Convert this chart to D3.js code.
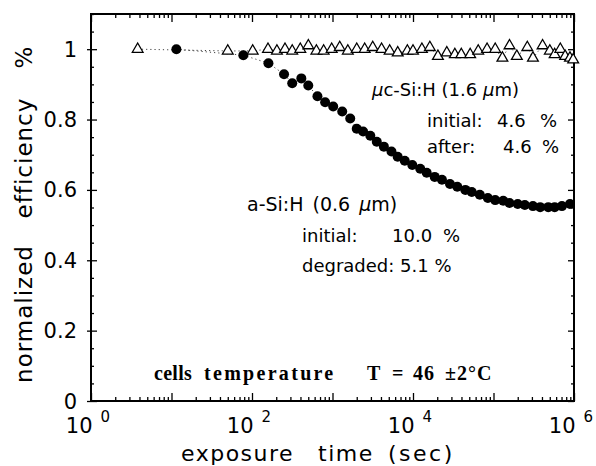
<!DOCTYPE html>
<html>
<head>
<meta charset="utf-8">
<script src="https://cdn.jsdelivr.net/npm/d3@7"></script>
<style>
  body { margin: 0; background: #fff; }
  text { white-space: pre; }
</style>
</head>
<body>
<div id="chart"></div>
<script>
// a-Si:H (0.6 um) - filled circles
const circleTime = [11.5, 78, 160, 250, 316, 410, 500, 650, 810, 1020, 1320, 1660, 2000, 2400, 2950,
  3550, 4350, 5400, 6450, 7900, 9800, 12300, 14800, 18600, 22900, 28800, 35500, 44700, 53700,
  67600, 85100, 105000, 132000, 158000, 200000, 245000, 309000, 380000, 479000, 575000, 708000, 891000];
const circleEff = [1.0, 0.983, 0.960, 0.929, 0.903, 0.917, 0.897, 0.866, 0.849, 0.837, 0.823, 0.803, 0.774, 0.766, 0.754,
  0.737, 0.723, 0.709, 0.694, 0.683, 0.671, 0.660, 0.649, 0.637, 0.629, 0.617, 0.609, 0.600, 0.594,
  0.586, 0.577, 0.571, 0.569, 0.563, 0.560, 0.557, 0.554, 0.551, 0.551, 0.551, 0.554, 0.560];

// uc-Si:H (1.6 um) - open triangles
const triTime = [3.8, 50, 102, 158, 204, 257, 316, 398, 501, 631, 776, 977, 1230, 1550, 2000, 2510, 3160,
  4070, 5130, 6460, 8510, 10000, 12900, 16200, 20400, 26300, 33100, 39800, 51300, 64600, 83200,
  105000, 129000, 158000, 195000, 263000, 309000, 407000, 501000, 575000, 676000, 776000, 891000, 977000];
const triEff = [1.0, 0.995, 0.995, 1.0, 0.995, 1.0, 0.995, 1.0, 1.01, 0.995, 0.995, 1.0, 1.005, 0.995, 1.0, 1.0, 1.005,
  1.0, 0.995, 0.99, 0.995, 0.995, 1.0, 1.005, 0.98, 0.99, 0.985, 0.985, 0.985, 0.995, 1.0,
  1.0, 0.975, 1.01, 0.98, 1.005, 0.975, 1.01, 0.995, 0.985, 1.0, 0.98, 0.975, 0.97];

const yTickValues = [0, 0.2, 0.4, 0.6, 0.8, 1];
const yTickLabels = ["0", "0.2", "0.4", "0.6", "0.8", "1"];
const xLabelValues = [1, 1e2, 1e4, 1e6];
const xLabelExponents = ["0", "2", "4", "6"];

const margin = { top: 14, right: 22, bottom: 65, left: 91 },
    width = 596 - margin.left - margin.right,
    height = 466 - margin.top - margin.bottom;

const x = d3.scaleLog().domain([1, 1e6]).range([0, width]);
const y = d3.scaleLinear().domain([0, 1.1]).range([height, 0]);

const root = d3.select("#chart")
    .append("svg")
    .attr("width", width + margin.left + margin.right)
    .attr("height", height + margin.top + margin.bottom);

const svg = root.append("g")
    .attr("transform", "translate(" + margin.left + "," + margin.top + ")");

// tick positions
const decades = d3.range(0, 7).map(function(k) { return Math.pow(10, k); });
const minors = [];
for (let k = 0; k < 6; k++) {
    for (let m = 2; m < 10; m++) minors.push(m * Math.pow(10, k));
}
const yMinor = d3.range(0, 1.101, 0.05).filter(function(v) { return Math.abs(v * 5 - Math.round(v * 5)) > 1e-6; });

function tickAxis(axis, vals, size, tr) {
    const g = svg.append("g")
        .attr("transform", tr || null)
        .call(axis.tickValues(vals).tickSize(size).tickFormat(""));
    g.select(".domain").remove();
    g.selectAll("line").attr("stroke", "#000").attr("stroke-width", 1.3);
    return g;
}

// bottom and top x ticks (inside)
tickAxis(d3.axisBottom(x), decades, -8, "translate(0," + height + ")");
tickAxis(d3.axisBottom(x), minors, -4, "translate(0," + height + ")");
tickAxis(d3.axisTop(x), decades, -8);
tickAxis(d3.axisTop(x), minors, -4);

// left y ticks (crossing the axis), right y ticks (inside)
tickAxis(d3.axisLeft(y), yTickValues, 4);
tickAxis(d3.axisLeft(y), yTickValues, -6);
tickAxis(d3.axisLeft(y), yMinor, -3);
tickAxis(d3.axisRight(y), yTickValues, -6, "translate(" + width + ",0)");
tickAxis(d3.axisRight(y), yMinor, -3, "translate(" + width + ",0)");

// frame
svg.append("rect")
    .attr("x", 0).attr("y", 0)
    .attr("width", width).attr("height", height)
    .attr("fill", "none")
    .attr("stroke", "#000")
    .attr("stroke-width", 2);

// y tick labels
svg.selectAll(".ylab")
    .data(yTickValues)
    .enter().append("text")
    .attr("class", "ylab")
    .attr("x", -14)
    .attr("y", function(d) { return y(d); })
    .attr("dy", "0.36em")
    .attr("text-anchor", "end")
    .style("font-family", "DejaVu Sans, sans-serif")
    .style("font-size", "21px")
    .text(function(d, i) { return yTickLabels[i]; });

// x tick labels as 10^n
const xl = svg.selectAll(".xlab")
    .data(xLabelValues)
    .enter().append("text")
    .attr("class", "xlab")
    .attr("x", function(d) { return x(d) - 3; })
    .attr("y", height + 32)
    .attr("text-anchor", "middle")
    .style("font-family", "DejaVu Sans, sans-serif")
    .style("font-size", "21px");
xl.append("tspan").text("10");
xl.append("tspan")
    .attr("dx", 8).attr("dy", -11)
    .style("font-size", "15px")
    .text(function(d, i) { return xLabelExponents[i]; });

// page-coordinate text helper
function label(tx, ty, str, size, family) {
    return root.append("text")
        .attr("x", tx)
        .attr("y", ty)
        .style("font-family", family || "DejaVu Sans, sans-serif")
        .style("font-size", size + "px")
        .text(str);
}

// x axis title, word by word
label(181, 461, "exposure", 22).style("letter-spacing", "1.5px");
label(318, 461, "time", 22).style("letter-spacing", "1.5px");
label(388, 461, "(sec)", 22).style("letter-spacing", "2.5px");

// y axis title, rotated
const yt = root.append("text")
    .attr("transform", "translate(32,0) rotate(-90)")
    .attr("text-anchor", "middle")
    .style("font-family", "DejaVu Sans, sans-serif")
    .style("font-size", "23px")
    .style("letter-spacing", "1px");
yt.append("tspan").attr("x", -314).attr("y", 0).text("normalized");
yt.append("tspan").attr("x", -158).attr("y", 0).text("efficiency");
yt.append("tspan").attr("x", -57).attr("y", 0).text("%");

// dotted connecting lines
const line = d3.line()
    .x(function(d) { return x(d[0]); })
    .y(function(d) { return y(d[1]); });

svg.append("path")
    .datum(d3.zip(triTime, triEff))
    .attr("d", line)
    .attr("fill", "none")
    .attr("stroke", "#444")
    .attr("stroke-width", 1)
    .attr("stroke-dasharray", "1.2,3");

svg.append("path")
    .datum(d3.zip(circleTime, circleEff))
    .attr("d", line)
    .attr("fill", "none")
    .attr("stroke", "#444")
    .attr("stroke-width", 1)
    .attr("stroke-dasharray", "1.2,3");

// triangles
svg.selectAll(".tri")
    .data(d3.zip(triTime, triEff))
    .enter().append("path")
    .attr("class", "tri")
    .attr("d", d3.symbol().type(d3.symbolTriangle).size(50))
    .attr("transform", function(d) { return "translate(" + x(d[0]) + "," + y(d[1]) + ")"; })
    .attr("fill", "#fff")
    .attr("stroke", "#000")
    .attr("stroke-width", 1.3);

// circles
svg.selectAll(".dot")
    .data(d3.zip(circleTime, circleEff))
    .enter().append("circle")
    .attr("class", "dot")
    .attr("r", 5)
    .attr("cx", function(d) { return x(d[0]); })
    .attr("cy", function(d) { return y(d[1]); })
    .attr("fill", "#000");

// annotations
const mc = label(372, 96, "", 18);
mc.append("tspan").style("font-style", "italic").text("\u03bc");
mc.append("tspan").text("c-Si:H (1.6 ");
mc.append("tspan").style("font-style", "italic").text("\u03bc");
mc.append("tspan").text("m)");
label(427, 127, "initial:", 18);
label(497, 127, "4.6", 18);
label(540, 127, "%", 18);
label(427, 153, "after:", 18);
label(503, 153, "4.6", 18);
label(542, 153, "%", 18);

const am = label(247, 211, "a-Si:H (0.6 ", 19).style("word-spacing", "3px");
am.append("tspan").style("font-style", "italic").text("\u03bc");
am.append("tspan").text("m)");
label(302, 242, "initial:", 18);
label(392, 242, "10.0", 18);
label(443, 242, "%", 18);
label(302, 272, "degraded: 5.1 %", 18);

const serif = "Liberation Serif, Times New Roman, serif";
[["cells", 154, 0.3], ["temperature", 204, 2.3], ["T", 367, 1], ["=", 392, 1], ["46", 413, 1], ["\u00b12\u00b0C", 445, 1]]
    .forEach(function(w) {
        label(w[1], 380, w[0], 20, serif)
            .style("font-weight", "bold")
            .style("letter-spacing", w[2] + "px");
    });
</script>
</body>
</html>
